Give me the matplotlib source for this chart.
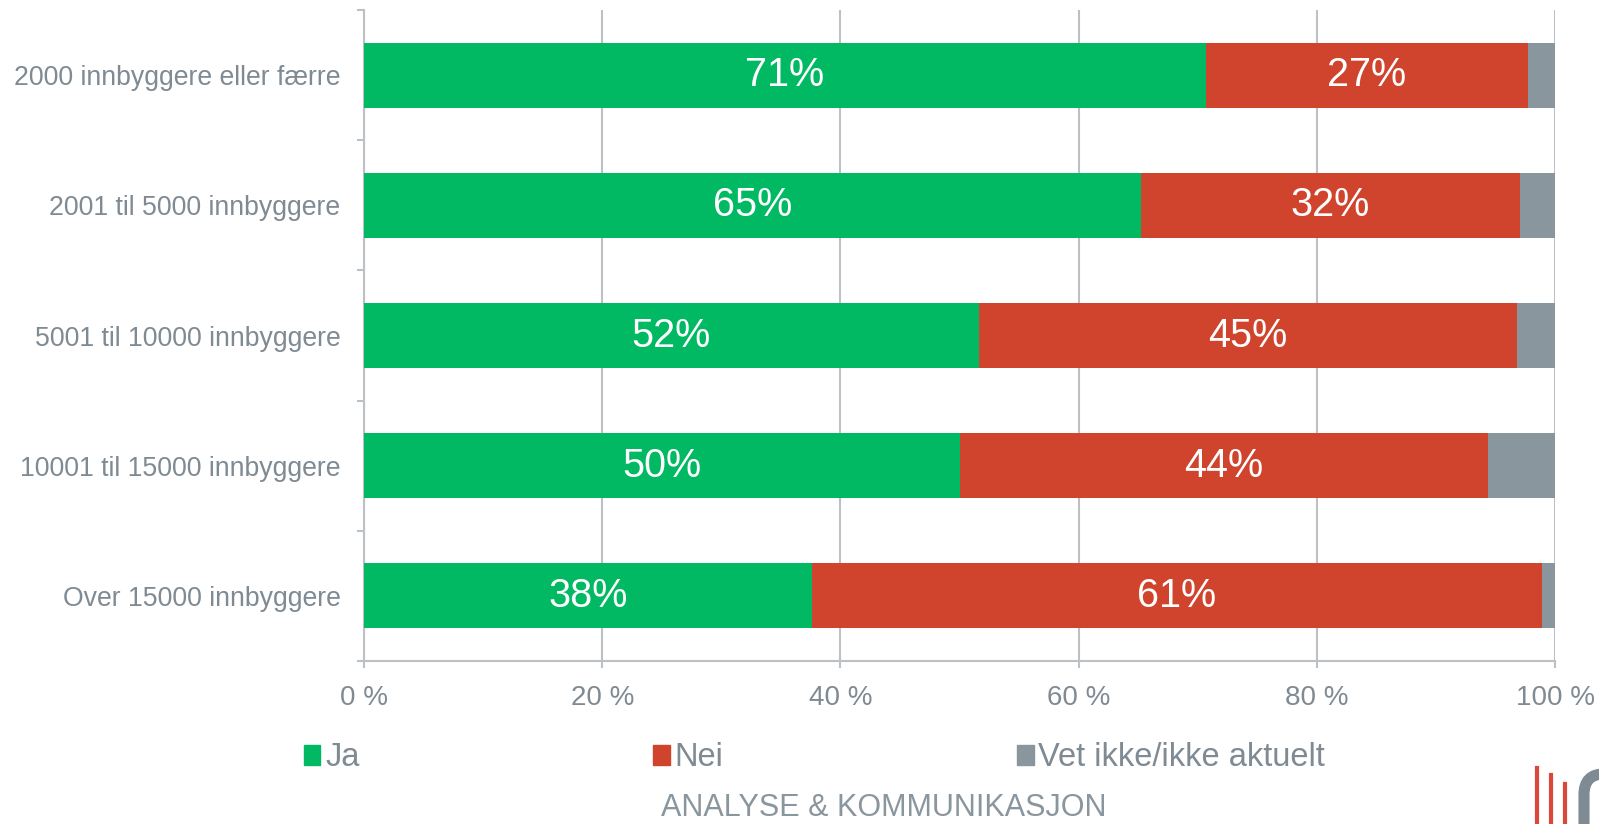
import matplotlib
matplotlib.use("Agg")
import matplotlib.pyplot as plt
from matplotlib.lines import Line2D
from matplotlib.patches import Patch, FancyBboxPatch

plt.rcParams['font.family'] = ['Liberation Sans', 'DejaVu Sans']

# data
categories = ["2000 innbyggere eller færre", "2001 til 5000 innbyggere",
              "5001 til 10000 innbyggere", "10001 til 15000 innbyggere",
              "Over 15000 innbyggere"]
ja = [70.7, 65.2, 51.6, 50.0, 37.6]
nei = [27.0, 31.9, 45.2, 44.4, 61.3]
vet = [2.3, 2.9, 3.2, 5.6, 1.1]
series_names = ["Ja", "Nei", "Vet ikke/ikke aktuelt"]
xticks = [0, 20, 40, 60, 80, 100]

GREEN = "#00B962"
RED = "#D0432C"
GREY = "#8A969E"
TXT = "#7F8A93"
LINE = "#BCC1C5"

W, H = 1599, 824
fig = plt.figure(figsize=(W / 100, H / 100), dpi=100)
ax = fig.add_axes([364 / W, 1 - 661 / H, (1555 - 364) / W, (661 - 10) / H])

y = list(range(len(categories)))
ax.barh(y, ja, height=0.5, color=GREEN, zorder=3)
ax.barh(y, nei, left=ja, height=0.5, color=RED, zorder=3)
left3 = [a + b for a, b in zip(ja, nei)]
ax.barh(y, vet, left=left3, height=0.5, color=GREY, zorder=3)

for i in y:
    ax.text(ja[i] / 2, i, f"{round(ja[i])}%", ha='center', va='center',
            color='white', fontsize=28.5, zorder=4)
    ax.text(ja[i] + nei[i] / 2, i, f"{round(nei[i])}%", ha='center', va='center',
            color='white', fontsize=28.5, zorder=4)

ax.set_xlim(0, 100)
ax.set_ylim(len(categories) - 0.5, -0.5)
ax.set_xticks(xticks)
ax.set_xticklabels([f"{t} %" for t in xticks], fontsize=20, color=TXT)
ax.set_yticks(y)
ax.set_yticklabels(categories, fontsize=19.2, color=TXT)
ax.set_yticks([i - 0.5 for i in range(len(categories) + 1)], minor=True)
ax.tick_params(axis='y', which='major', length=0, pad=17)
ax.tick_params(axis='y', which='minor', length=5, width=1.5, color=LINE)
ax.tick_params(axis='x', length=5, width=1.5, color=LINE, pad=12.5)
ax.grid(axis='x', color=LINE, linewidth=1.5, zorder=0)
for s in ['top', 'right']:
    ax.spines[s].set_visible(False)
for s in ['left', 'bottom']:
    ax.spines[s].set_color(LINE)
    ax.spines[s].set_linewidth(1.5)

handles = [Patch(color=c) for c in (GREEN, RED, GREY)]
leg = fig.legend(handles, series_names, loc='center left',
                 bbox_to_anchor=(304 / W, 1 - 758 / H), ncol=3, frameon=False,
                 fontsize=23.5, handlelength=0.5, handleheight=0.55,
                 handletextpad=0.15, columnspacing=9.0, borderpad=0,
                 borderaxespad=0)
for t in leg.get_texts():
    t.set_color(TXT)

fig.text(884 / W, 1 / H, "ANALYSE & KOMMUNIKASJON", ha='center',
         va='bottom', fontsize=22, color=GREY)

# logo fragment in the lower right corner
for lx, top in [(1537, 768), (1551, 775), (1565, 784)]:
    fig.add_artist(Line2D([lx / W, lx / W], [1 - top / H, 0], color="#D9483A",
                          linewidth=3, transform=fig.transFigure))
fig.add_artist(FancyBboxPatch((1584 / W, -0.1), 60 / W, (0.1 + 1 - 774 / H),
                              boxstyle="round,pad=0,rounding_size=0.025",
                              facecolor='none', edgecolor="#7E8B94",
                              linewidth=8, transform=fig.transFigure))

fig.savefig("out.png", dpi=100)
